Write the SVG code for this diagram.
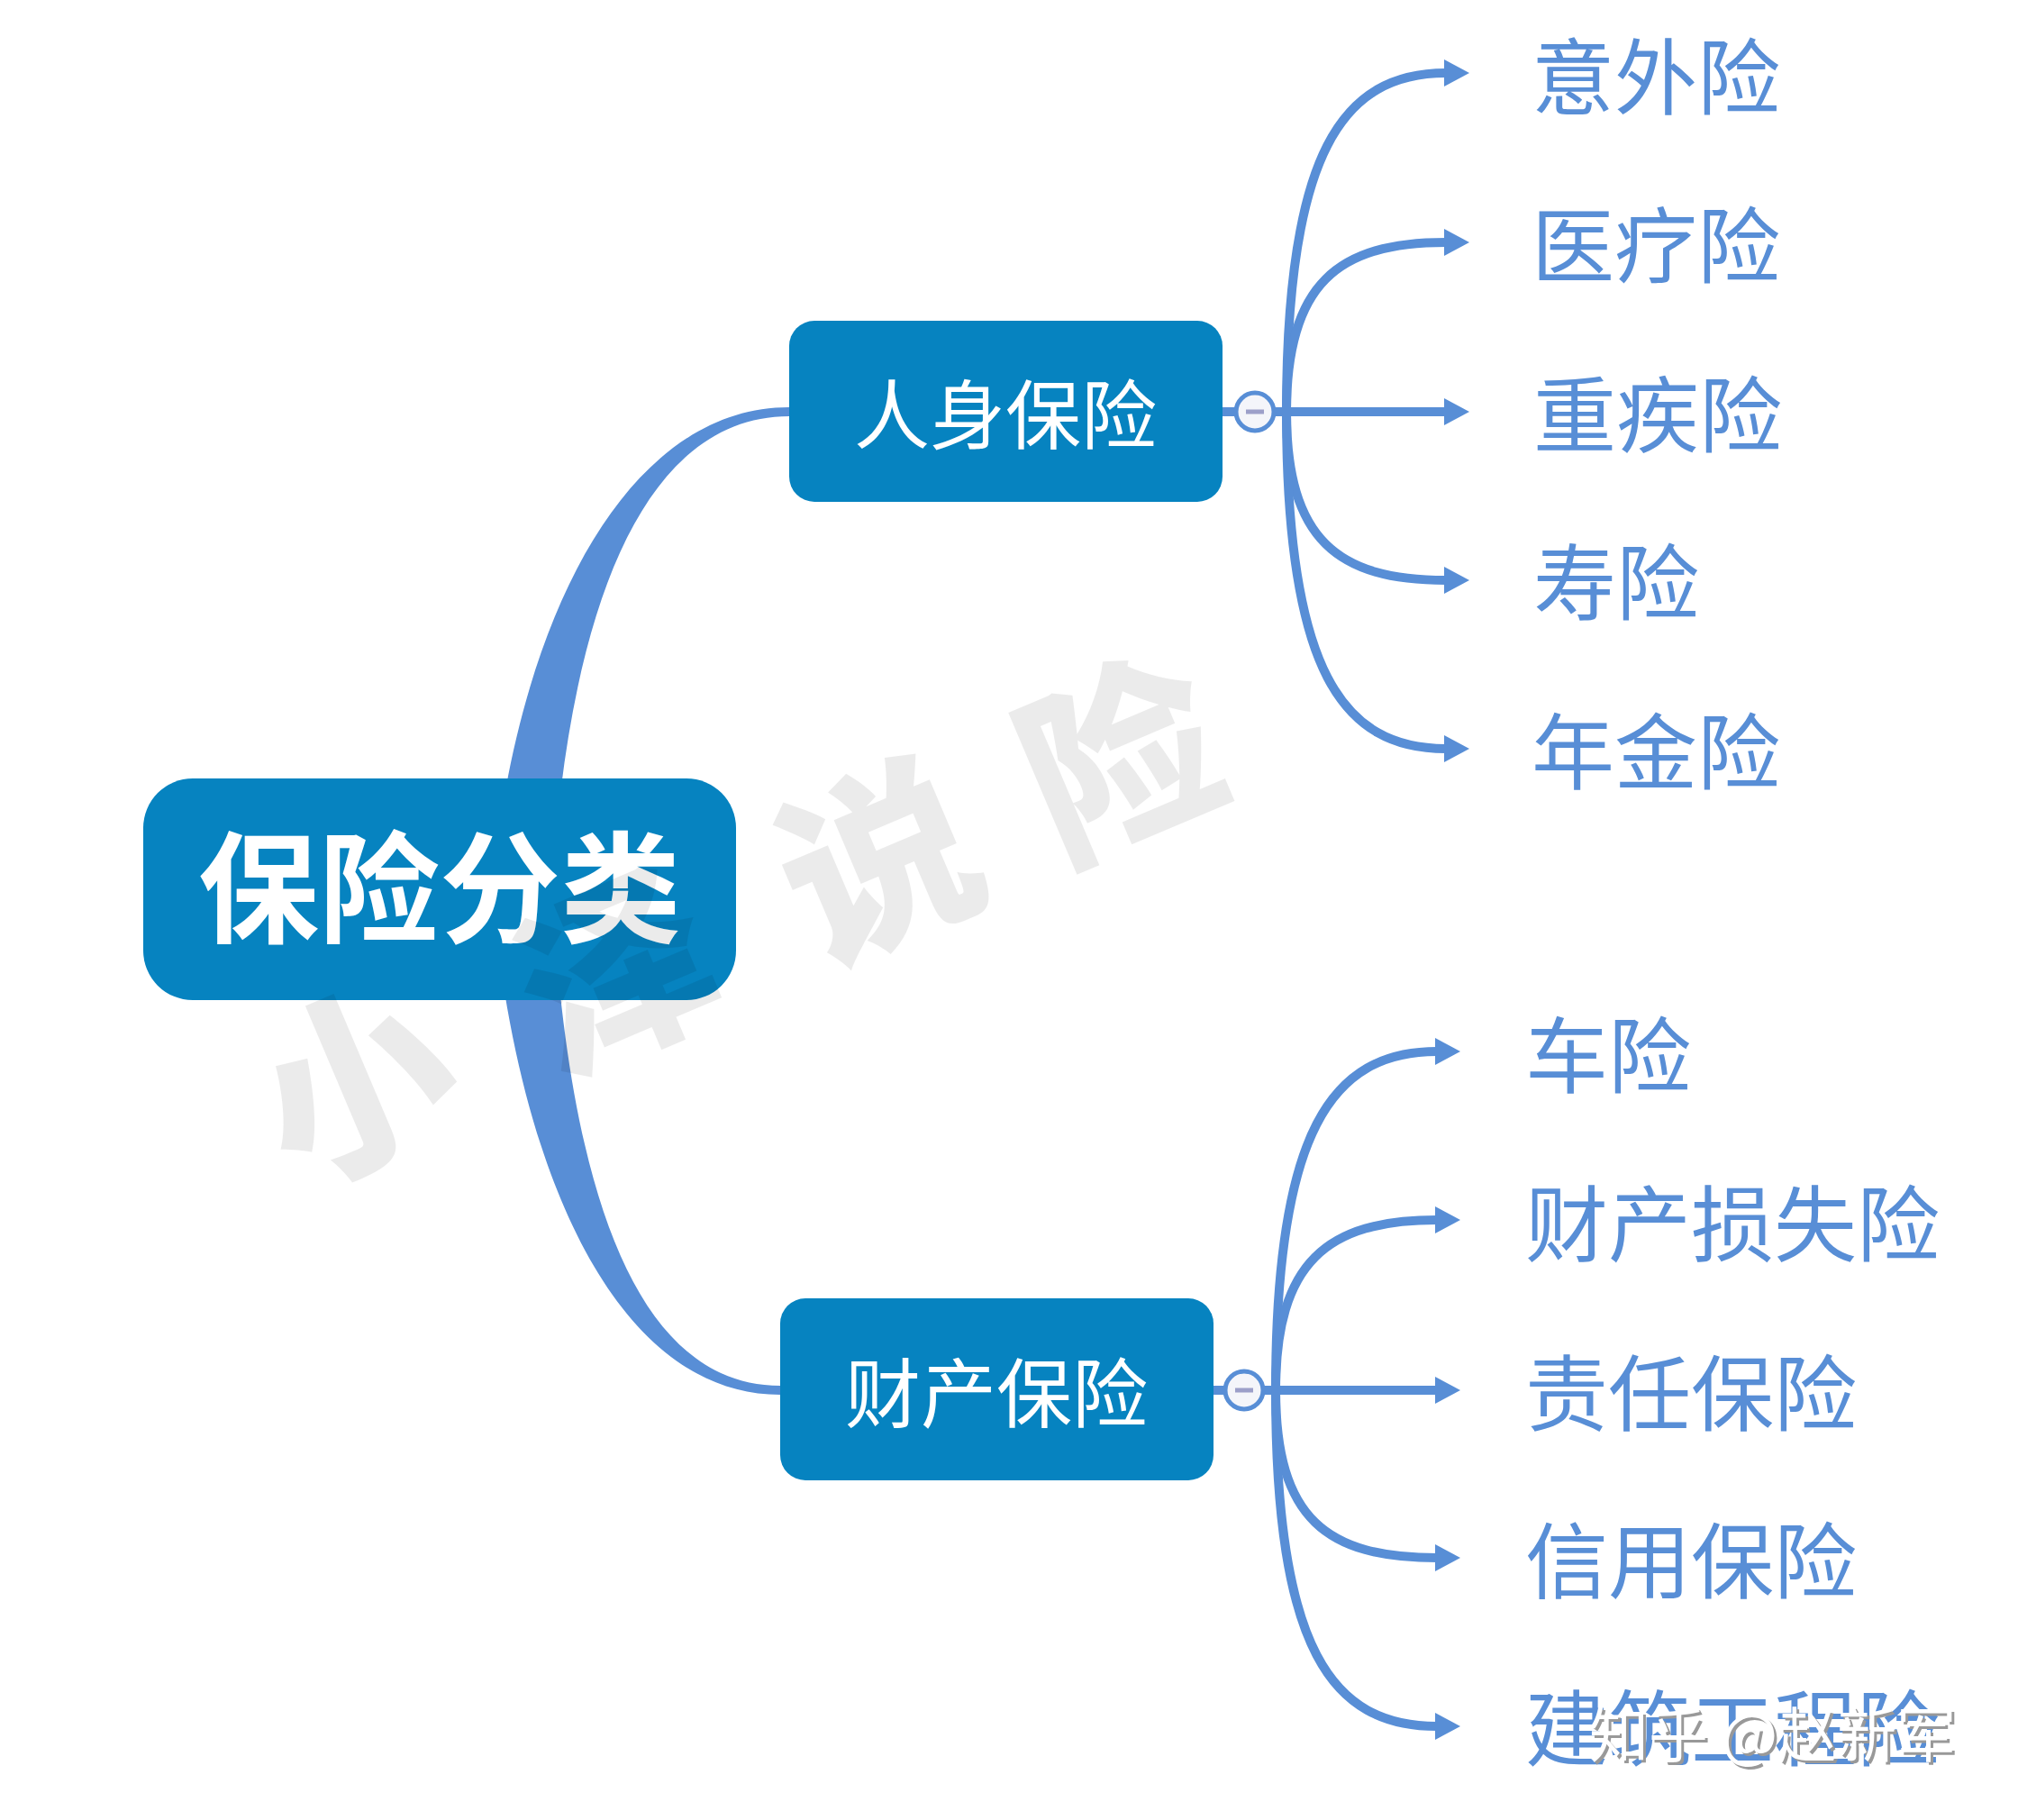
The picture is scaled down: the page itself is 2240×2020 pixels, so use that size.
<svg xmlns="http://www.w3.org/2000/svg" width="2240" height="2020" viewBox="0 0 2240 2020">
<style>
.node{fill:#0683c0}
.ntext{fill:#fff;font-family:"Noto Sans CJK SC","Noto Sans",sans-serif;text-anchor:middle;dominant-baseline:central}
.leaf{fill:#588ed6;font-family:"Noto Sans CJK SC","Noto Sans",sans-serif;font-size:92px;dominant-baseline:central}
.conn{fill:none;stroke:#588ed6;stroke-width:10}
.arr{marker-end:url(#ah)}
.branch{fill:#588ed6}
.tog{fill:#f4f5fa;stroke:#588ed6;stroke-width:5}
.minus{stroke:#9c9fc9;stroke-width:5}
.wm{fill:#000;fill-opacity:0.08;font-family:"Noto Sans CJK SC",sans-serif;font-weight:900;font-size:215px;text-anchor:middle;dominant-baseline:central}
</style>
<defs>
<marker id="ah" markerUnits="userSpaceOnUse" viewBox="0 0 28 30" markerWidth="28" markerHeight="30" refX="2" refY="15" orient="auto">
<path d="M0,0 L28,15 L0,30 Z" fill="#588ed6"/>
</marker>
</defs>
<rect width="2240" height="2020" fill="#fff"/>
<g id="connectors">
<path class="branch" d="M545 1000 C570 700 690 452 876 452 L876 462 C705 462 628 700 612 1000 Z"/>
<path class="branch" d="M545 975 C570 1290 680 1548 866 1548 L866 1538 C695 1538 628 1290 612 975 Z"/>
<path class="conn" d="M1357 457 H1372"/>
<path class="conn" d="M1414 457 H1430"/>
<path class="conn arr" d="M1428 457 C1428 170 1490 81 1605 81"/>
<path class="conn arr" d="M1428 457 C1428 315 1485 269 1605 269"/>
<path class="conn arr" d="M1420 457 H1605"/>
<path class="conn arr" d="M1428 457 C1428 599 1485 644 1605 644"/>
<path class="conn arr" d="M1428 457 C1428 744 1490 831 1605 831"/>
<path class="conn" d="M1347 1543 H1360"/>
<path class="conn" d="M1402 1543 H1418"/>
<path class="conn arr" d="M1416 1543 C1416 1256 1478 1167 1595 1167"/>
<path class="conn arr" d="M1416 1543 C1416 1401 1473 1354 1595 1354"/>
<path class="conn arr" d="M1408 1543 H1595"/>
<path class="conn arr" d="M1416 1543 C1416 1686 1473 1729 1595 1729"/>
<path class="conn arr" d="M1416 1543 C1416 1830 1478 1916 1595 1916"/>
</g>
<g id="root">
<rect class="node" x="159" y="864" width="658" height="246" rx="55"/>
<text class="ntext" x="488" y="978" font-size="134" font-weight="bold">保险分类</text>
</g>
<g id="renshen">
<rect class="node" x="876" y="356" width="481" height="201" rx="28"/>
<text class="ntext" x="1116" y="455" font-size="84">人身保险</text>
<circle class="tog" cx="1393" cy="457" r="21"/>
<line class="minus" x1="1383" y1="457" x2="1403" y2="457"/>
</g>
<g id="caichan">
<rect class="node" x="866" y="1441" width="481" height="202" rx="28"/>
<text class="ntext" x="1106" y="1541" font-size="84">财产保险</text>
<circle class="tog" cx="1381" cy="1543" r="21"/>
<line class="minus" x1="1371" y1="1543" x2="1391" y2="1543"/>
</g>
<g id="yiwai"><text class="leaf" x="1700" y="79">意外险</text></g>
<g id="yiliao"><text class="leaf" x="1700" y="266">医疗险</text></g>
<g id="zhongji"><text class="leaf" x="1702" y="454">重疾险</text></g>
<g id="shou"><text class="leaf" x="1702" y="640">寿险</text></g>
<g id="nianjin"><text class="leaf" x="1700" y="828">年金险</text></g>
<g id="che"><text class="leaf" x="1693" y="1165">车险</text></g>
<g id="caichansunshi"><text class="leaf" x="1693" y="1352">财产损失险</text></g>
<g id="zeren"><text class="leaf" x="1693" y="1540">责任保险</text></g>
<g id="xinyong"><text class="leaf" x="1693" y="1726">信用保险</text></g>
<g id="jianzhu"><text class="leaf" x="1693" y="1912">建筑工程险</text></g>
<g id="watermark">
<text class="wm" transform="translate(388,1190) rotate(-23)"><tspan x="0" y="0">小</tspan><tspan x="316" y="0">泽</tspan><tspan x="632" y="0">说</tspan><tspan x="924" y="0">险</tspan></text>
<text x="1767" y="1924" font-family="Noto Sans CJK SC,sans-serif" font-size="66" fill="#999" dominant-baseline="central">知乎 @赵新军</text>
<text x="1764" y="1921" font-family="Noto Sans CJK SC,sans-serif" font-size="66" fill="#fff" dominant-baseline="central">知乎 @赵新军</text>
</g>
</svg>
